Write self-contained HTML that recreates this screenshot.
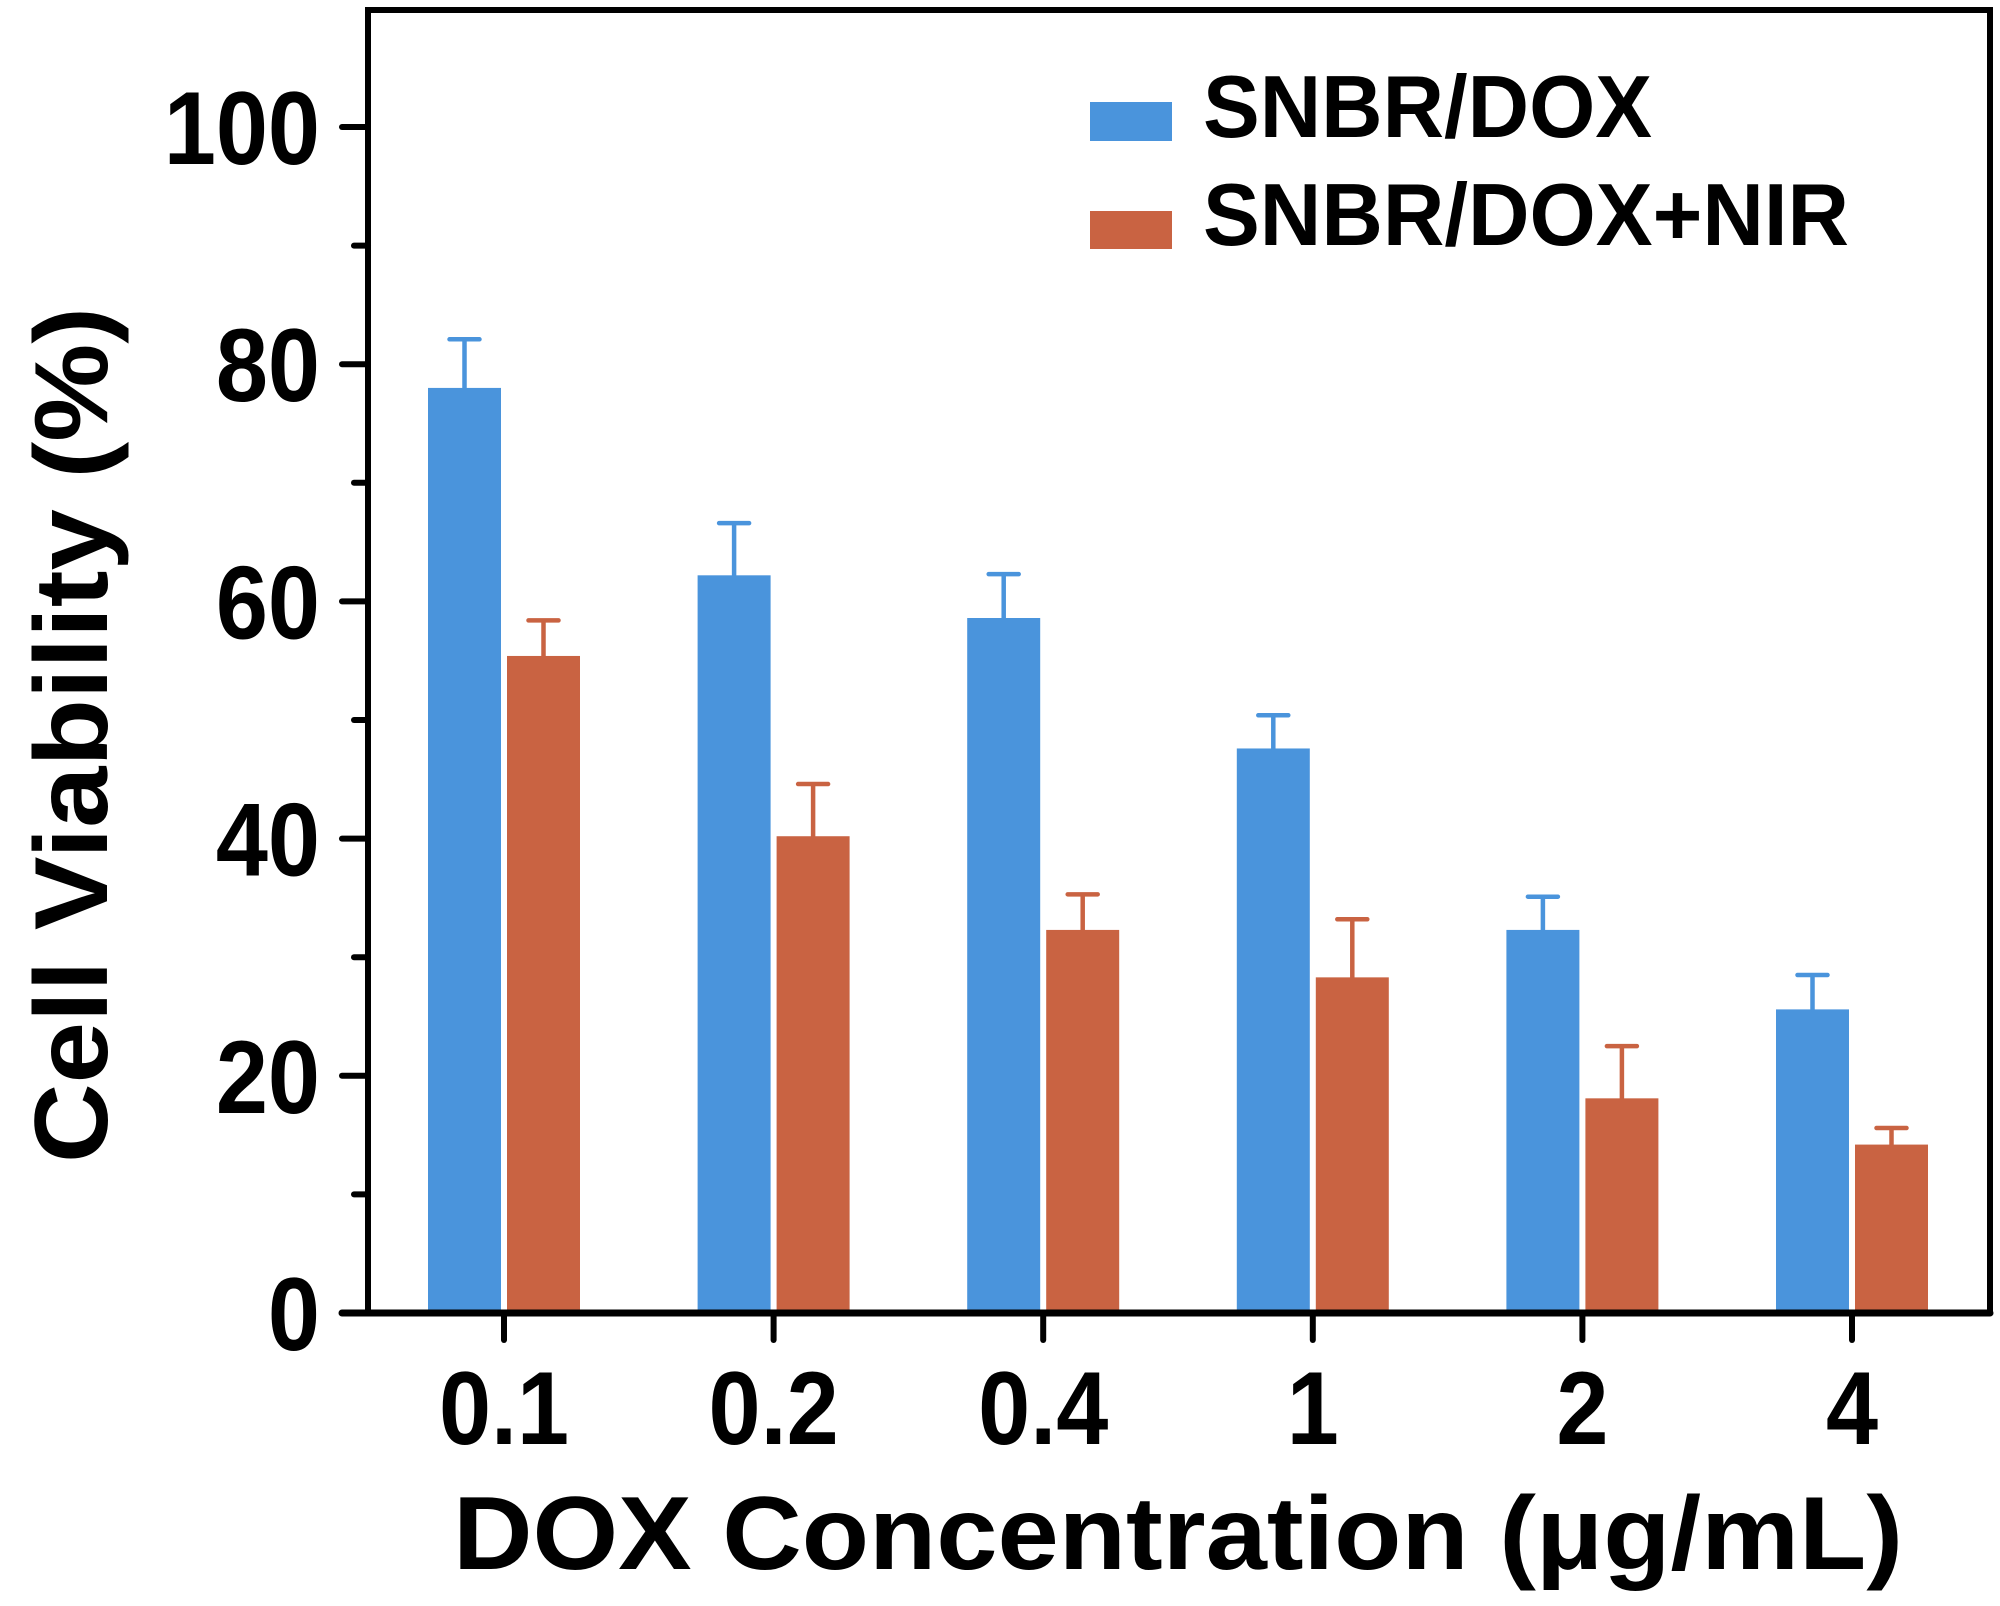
<!DOCTYPE html>
<html><head><meta charset="utf-8"><style>html,body{margin:0;padding:0;background:#fff}svg{display:block}</style></head>
<body>
<svg id="chart" width="2000" height="1606" viewBox="0 0 2000 1606" xmlns="http://www.w3.org/2000/svg" font-family="'Liberation Sans', sans-serif" font-weight="bold">
<g id="frame"></g>
<g id="bars"></g>
<g id="axes"></g>
<text x="1178" y="1569" font-size="104" text-anchor="middle" textLength="1450" lengthAdjust="spacingAndGlyphs">DOX Concentration (μg/mL)</text>
<text transform="translate(107,735) rotate(-90)" font-size="104" text-anchor="middle" textLength="856" lengthAdjust="spacingAndGlyphs">Cell Viability (%)</text>
<g>
<rect x="1090" y="102" width="82" height="39" fill="#4a94dc"/>
<text x="1203" y="137" font-size="88" textLength="449" lengthAdjust="spacingAndGlyphs">SNBR/DOX</text>
<rect x="1090" y="211" width="82" height="38" fill="#c96342"/>
<text x="1203" y="245" font-size="88" textLength="646" lengthAdjust="spacingAndGlyphs">SNBR/DOX+NIR</text>
</g>
</svg>
<script>
const categories = ["0.1","0.2","0.4","1","2","4"];
const seriesDox = [78.0, 62.2, 58.6, 47.6, 32.3, 25.6];
const seriesDoxErr = [4.1, 4.4, 3.7, 2.8, 2.8, 2.9];
const seriesNir = [55.4, 40.2, 32.3, 28.3, 18.1, 14.2];
const seriesNirErr = [3.0, 4.4, 3.0, 4.9, 4.4, 1.4];
const yTicks = [0, 20, 40, 60, 80, 100];
const yMinorTicks = [10, 30, 50, 70, 90];

const NS = "http://www.w3.org/2000/svg";
const X0 = 368, Y0 = 1313, PXPU = 11.86, FIRST = 504, STEP = 269.6;
const y = v => Y0 - v * PXPU;
const xc = i => FIRST + i * STEP;
function mk(parent, tag, attrs) {
  const e = document.createElementNS(NS, tag);
  for (const k in attrs) e.setAttribute(k, attrs[k]);
  parent.appendChild(e);
  return e;
}
const frame = document.getElementById('frame');
const bars = document.getElementById('bars');
const axes = document.getElementById('axes');
let fr = mk(frame, 'path', {d: `M${X0} ${Y0} V10 H1990 V${Y0}`, fill: 'none', stroke: '#000', 'stroke-width': 6});



function bar(i, v, e, color, off, name) {
  const bx = xc(i) + off;
  const r = mk(bars, 'rect', {x: bx, y: y(v), width: 73, height: Y0 - y(v), fill: color});
  
  
  const cx = bx + 36.5;
  const eb = mk(bars, 'path', {d: `M${cx} ${y(v)} V${y(v + e)} M${cx - 15} ${y(v + e)} H${cx + 15}`, stroke: color, 'stroke-width': 4.5, fill: 'none', 'stroke-linecap': 'round'});
  
  
}
categories.forEach((c, i) => {
  bar(i, seriesDox[i], seriesDoxErr[i], '#4a94dc', -76, 'bar-snbr-dox');
  bar(i, seriesNir[i], seriesNirErr[i], '#c96342', 3, 'bar-snbr-dox-nir');
});
let xa = mk(axes, 'line', {x1: 342, y1: Y0, x2: 1990, y2: Y0, stroke: '#000', 'stroke-width': 7, 'stroke-linecap': 'round'});


categories.forEach((c, i) => {
  const t = mk(axes, 'line', {x1: xc(i), y1: Y0, x2: xc(i), y2: 1340, stroke: '#000', 'stroke-width': 6, 'stroke-linecap': 'round'});
  
  
  const l = mk(axes, 'text', {transform: `translate(${xc(i)},1444) scale(0.9,1)`, 'font-size': 104, 'text-anchor': 'middle'});
  l.textContent = c;
  
  
});
yTicks.forEach(v => {
  const t = mk(axes, 'line', {x1: 342, y1: y(v), x2: X0, y2: y(v), stroke: '#000', 'stroke-width': 6, 'stroke-linecap': 'round'});
  
  
  const l = mk(axes, 'text', {transform: `translate(320,${y(v) + 37}) scale(0.9,1)`, 'font-size': 104, 'text-anchor': 'end'});
  l.textContent = v;
  
  
});
yMinorTicks.forEach(v => {
  const t = mk(axes, 'line', {x1: 354, y1: y(v), x2: X0, y2: y(v), stroke: '#000', 'stroke-width': 6, 'stroke-linecap': 'round'});
  
  
});
</script>
</body></html>
